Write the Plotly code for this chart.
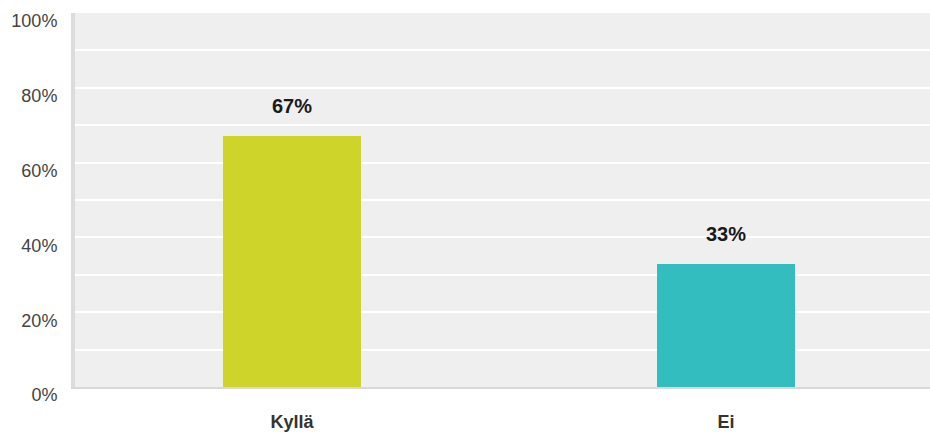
import plotly.graph_objects as go

categories = ["Kyllä", "Ei"]
values = [67, 33]
bar_colors = ["#cfd42a", "#33bdbe"]
value_labels = [f"{v}%" for v in values]
tick_vals = [0, 20, 40, 60, 80, 100]
tick_text = [f"{v}%" for v in tick_vals]

FONT = "Liberation Sans, Arial"

fig = go.Figure()
fig.add_trace(go.Bar(
    x=categories,
    y=values,
    marker=dict(color=bar_colors, line=dict(width=0)),
    width=0.32,
    hoverinfo="skip",
))

for cat, v, lab in zip(categories, values, value_labels):
    fig.add_annotation(
        x=cat, y=v, text=f"<b>{lab}</b>", showarrow=False,
        yanchor="bottom", yshift=17,
        font=dict(family=FONT, size=20, color="#1a1a1a"),
    )

fig.update_layout(
    width=930, height=432,
    margin=dict(l=75, r=0, t=13, b=43),
    paper_bgcolor="white",
    plot_bgcolor="#efefef",
    showlegend=False,
    bargap=0,
    xaxis=dict(
        range=[-0.5, 1.47],
        tickvals=categories,
        ticktext=[f"<b>{c}</b>" for c in categories],
        tickfont=dict(family=FONT, size=18, color="#333333"),
        showline=True, linecolor="#d8d8d8", linewidth=2,
        showgrid=False, ticks="", ticklabelstandoff=17,
        fixedrange=True,
    ),
    yaxis=dict(
        range=[0, 100],
        tickvals=tick_vals,
        ticktext=tick_text,
        tickfont=dict(family=FONT, size=18, color="#444444"),
        showline=True, linecolor="#dcdcdc", linewidth=4,
        showgrid=True, gridcolor="white", gridwidth=2,
        minor=dict(dtick=10, showgrid=True, gridcolor="white", gridwidth=2),
        zeroline=False, ticks="",
        ticklabelshift=8, ticklabelstandoff=10,
        fixedrange=True,
    ),
)

fig.write_html("out.html")
